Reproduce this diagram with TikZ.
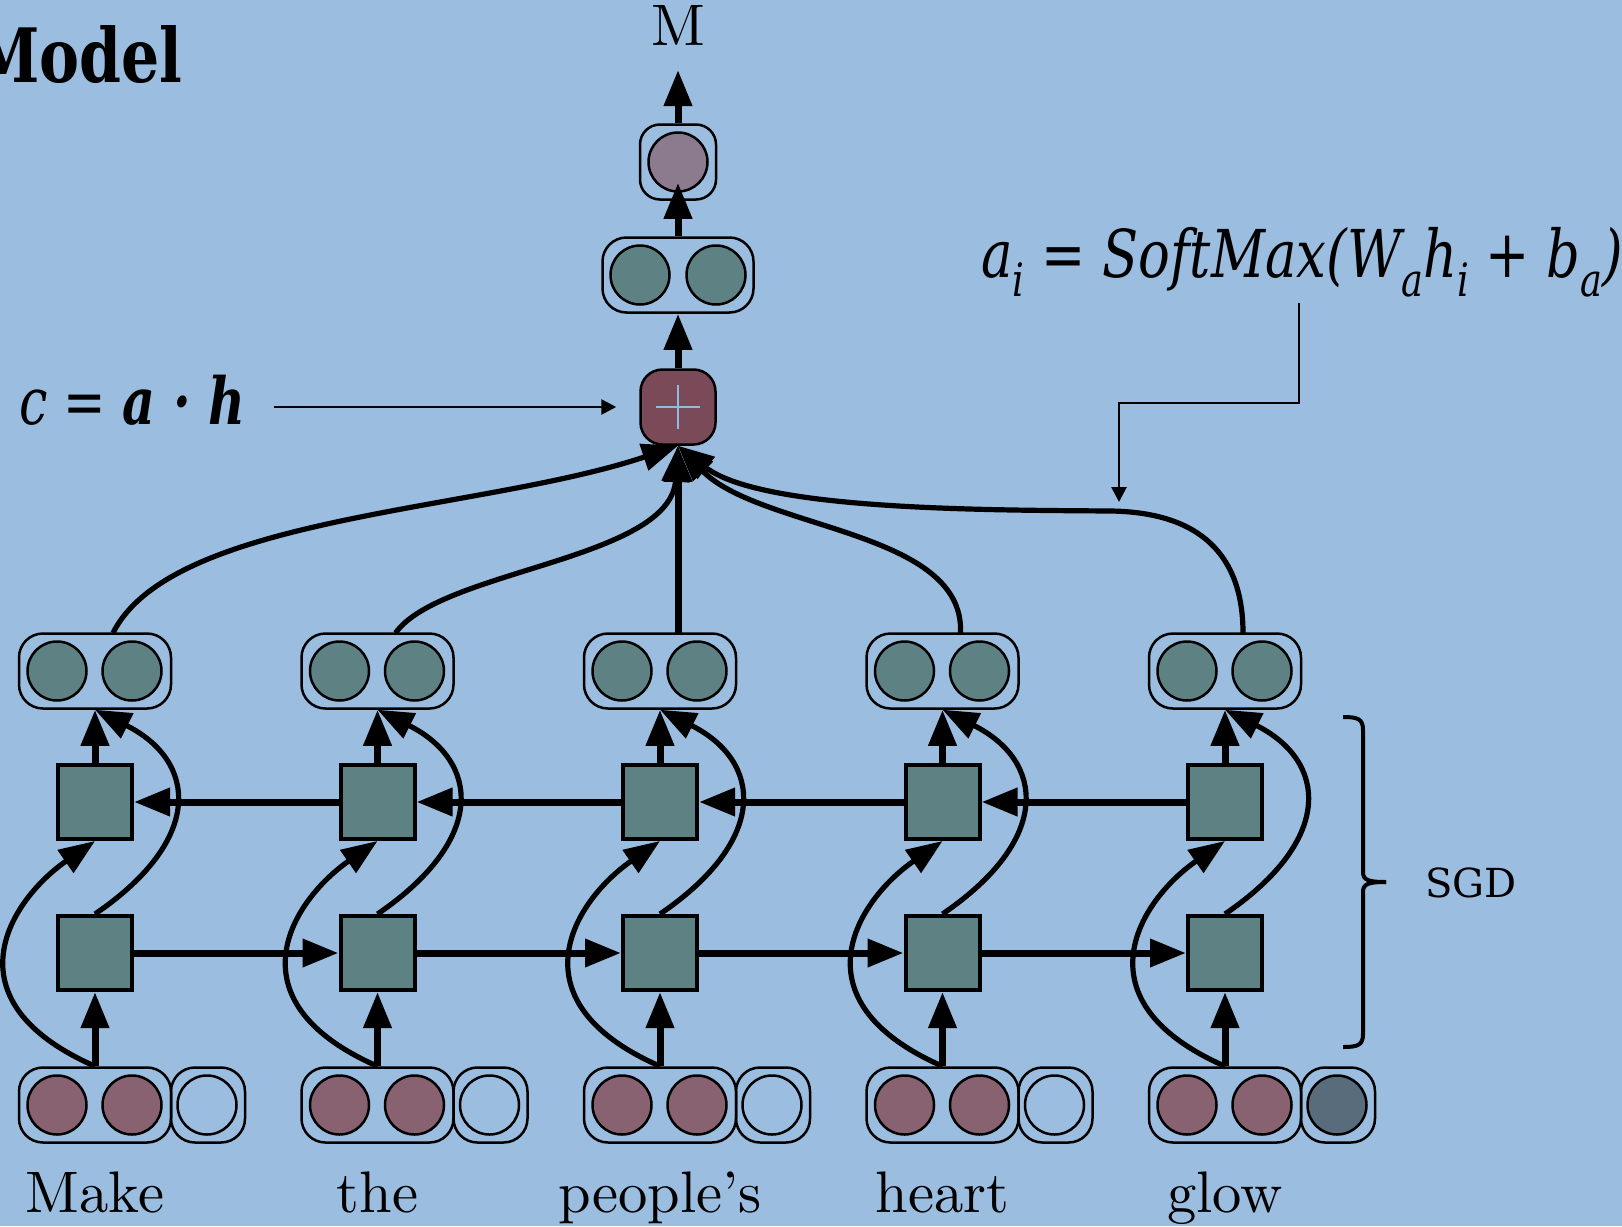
\documentclass[tikz,border=0pt]{standalone}
\usepackage{fontspec}
\usepackage{graphicx}
\usetikzlibrary{arrows.meta,calc}
\newfontfamily\slabserif{DejaVu Serif}
\newfontfamily\wordfont{lmroman10-regular.otf}

\definecolor{bgblue}{RGB}{155,189,223}
\definecolor{crossblue}{RGB}{150,186,222}
\definecolor{cellteal}{RGB}{94,130,132}
\definecolor{inmauve}{RGB}{136,98,112}
\definecolor{sumred}{RGB}{122,74,88}
\definecolor{outmauve}{RGB}{140,122,142}
\definecolor{padslate}{RGB}{88,108,124}

% lowered, enlarged subscripts for the attention formula
\newcommand\lowsub[1]{\raisebox{-0.3em}{\fontsize{23}{23}\selectfont #1}}

\begin{document}
\begin{tikzpicture}[x=0.5pt, y=-0.5pt,
  vec/.style={draw, rounded corners=12pt, line width=1.25pt, minimum height=37.5pt, inner sep=0pt},
  unit/.style={draw, circle, line width=1.25pt, minimum size=29.5pt, inner sep=0pt},
  cell/.style={draw, rectangle, line width=2pt, minimum size=37pt, fill=cellteal, inner sep=0pt},
  flow/.style={line width=3.5pt, -{Triangle[length=18pt,width=13.5pt]}},
  curvearrow/.style={line width=2.6pt, -{Triangle[length=18pt,width=13.5pt]}},
  note/.style={line width=1.35pt, -{Triangle[length=7.5pt,width=7.5pt]}},
  word/.style={font=\wordfont\fontsize{29.3}{35}\selectfont, anchor=base, inner sep=0pt},
]
\fill[bgblue] (0,0) rectangle (1622,1226);
\clip (0,0) rectangle (1622,1226);

% ---- one column per word: input vector, forward/backward cells, hidden vector
\foreach \k/\w/\ef in {0/Make/none,1/the/none,2/people’s/none,3/heart/none,4/glow/padslate} {
  \pgfmathsetmacro\cx{95+282.5*\k}
  \node[vec, minimum width=76pt] (h\k) at (\cx,671) {};
  \node[unit, fill=cellteal] (h\k-l) at (\cx-38,671) {};
  \node[unit, fill=cellteal] (h\k-r) at (\cx+37,671) {};
  \node[cell] (b\k) at (\cx,802) {};
  \node[cell] (f\k) at (\cx,953) {};
  \node[vec, minimum width=76pt] (x\k) at (\cx,1105) {};
  \node[vec, minimum width=37pt] (e\k) at (\cx+113,1105) {};
  \node[unit, fill=inmauve] (x\k-l) at (\cx-38,1105) {};
  \node[unit, fill=inmauve] (x\k-r) at (\cx+37,1105) {};
  \node[unit, fill=\ef] (e\k-c) at (\cx+112,1105) {};
  \node[word] (w\k) at (\cx,1212) {\w};
  \coordinate (t\k) at (\cx+18,633);
}

% ---- recurrent links
\foreach \k/\n in {0/1,1/2,2/3,3/4} {
  \draw[flow] (f\k.east) -- (f\n.west);
  \draw[flow] (b\n.west) -- (b\k.east);
}

% ---- vertical links inside each column
\foreach \k in {0,...,4} {
  \draw[flow] (x\k.north) -- (f\k.south);
  \draw[flow] (b\k.north) -- (h\k.south);
  \draw[curvearrow] (x\k.north) .. controls +(-150,-66) and +(-85,59) .. (b\k.south);
  \draw[curvearrow] (f\k.north) .. controls +(110,-75) and +(102,51) .. (h\k.south);
}

% ---- attention sum and output stack
\node[draw, line width=1.25pt, fill=sumred, rounded corners=11pt, minimum size=37.5pt, inner sep=0pt] (p) at (678,407) {};
\draw[crossblue, line width=1pt] (p) ++(-22,0) -- ++(44,0);
\draw[crossblue, line width=1pt] (p) ++(0,-22) -- ++(0,44);

\node[vec, minimum width=75.5pt] (top) at (678,275) {};
\node[unit, fill=cellteal] (top-l) at (640,275) {};
\node[unit, fill=cellteal] (top-r) at (716,275) {};
\node[vec, minimum width=38pt, rounded corners=10pt] (o) at (678,162) {};
\node[unit, fill=outmauve] (oc) at (678,162) {};
\node[word] (mout) at (678,45) {M};
\coordinate (mtip) at (678,70);

\draw[flow] (p.north) -- (top.south);
\draw[flow] (top.north) -- ($(oc.south)+(0,-10)$);
\draw[flow] (o.north) -- (mtip);

% ---- hidden states feeding the sum
\draw[curvearrow] (t0) .. controls (172,515) and (480,512) .. (p.south);
\draw[curvearrow] (t1) .. controls (440,570) and (670,560) .. (p.south);
\draw[flow] (t2) -- (p.south);
\draw[curvearrow] (t3) .. controls (965,530) and (760,530) .. (p.south);
\draw[curvearrow] (t4) .. controls (1243,555) and (1200,512) .. (1110,511)
                 .. controls (980,510) and (760,510) .. (p.south);

% ---- annotations
\node[anchor=base east, inner sep=0pt, font=\slabserif\bfseries\fontsize{37.5}{45}\selectfont] (title) at (183,82) {\scalebox{0.8}[1]{Model}};

\node[anchor=base west, inner sep=0pt, font=\slabserif\itshape\fontsize{33}{40}\selectfont] (form) at (981,277)
  {\scalebox{0.8}[1]{a\lowsub{i} = SoftMax(W\lowsub{a}h\lowsub{i} + b\lowsub{a})}};
\coordinate (att) at (1299,303);
\coordinate (atip) at (1119,502);
\draw[note] (att) -- ++(0,100) -| (atip);

\node[anchor=base west, inner sep=0pt, font=\slabserif\fontsize{32.5}{38}\selectfont] (cah) at (19,424)
  {\scalebox{0.78}[1]{\itshape c = {\bfseries a · h}}};
\draw[note, shorten <=14pt, shorten >=11.5pt] (cah.east |- p.west) -- (p.west);

% ---- bracket grouping the recurrent layers
\draw[line width=2pt] (1343,717) .. controls (1358,717) and (1363,719) .. (1363,730) -- (1363,872)
  .. controls (1363,880) and (1368,882) .. (1386,882);
\draw[line width=2pt] (1343,1047) .. controls (1358,1047) and (1363,1045) .. (1363,1034) -- (1363,892)
  .. controls (1363,884) and (1368,882) .. (1386,882);
\node[anchor=base west, inner sep=0pt, font=\slabserif\fontsize{20}{24}\selectfont] (sgd) at (1425,897) {SGD};
\end{tikzpicture}
\end{document}
